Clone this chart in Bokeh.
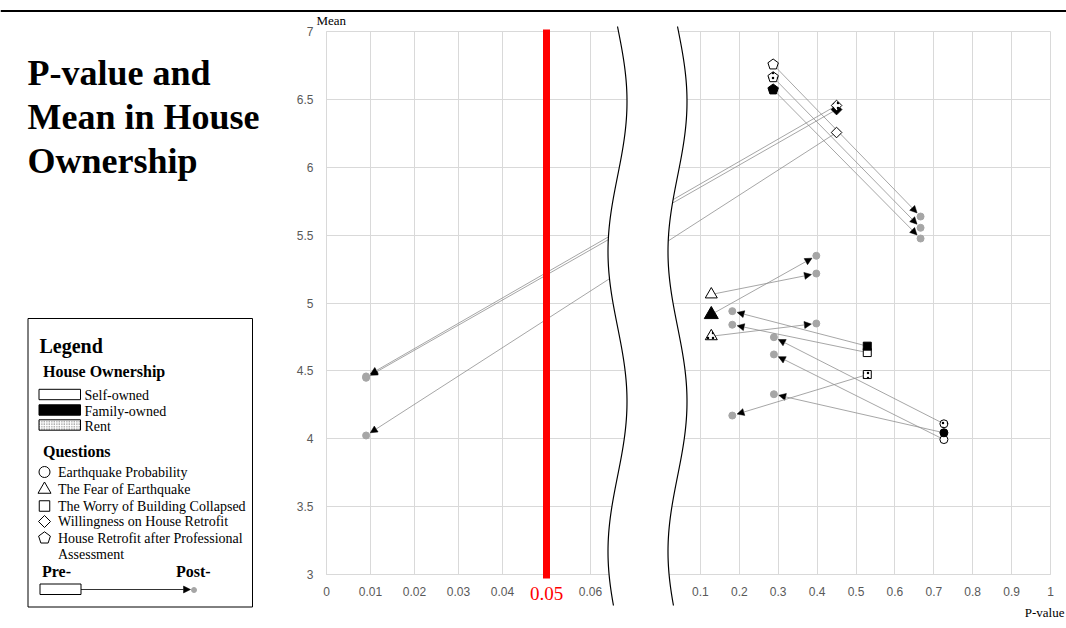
import math
from bokeh.plotting import figure
from bokeh.models import (ColumnDataSource, Arrow, NormalHead, PolyAnnotation,
                          FixedTicker, Range1d, NumeralTickFormatter, Grid)
from bokeh.core.properties import value
from bokeh.embed import file_html
from bokeh.resources import INLINE

# ---------------- data ----------------
questions = ["Earthquake Probability", "The Fear of Earthquake",
             "The Worry of Building Collapsed", "Willingness on House Retrofit",
             "House Retrofit after Professional Assessment"]
ownership = ["Self-owned", "Family-owned", "Rent"]

series_question = (["Earthquake Probability"] * 3 + ["The Fear of Earthquake"] * 3 +
                   ["The Worry of Building Collapsed"] * 3 +
                   ["Willingness on House Retrofit"] * 3 +
                   ["House Retrofit after Professional Assessment"] * 3)
series_owner = ownership * 5

pre_p = [0.726, 0.726, 0.726, 0.128, 0.128, 0.128, 0.529, 0.529, 0.529,
         0.450, 0.450, 0.450, 0.287, 0.287, 0.287]
pre_mean = [3.994, 4.044, 4.110, 5.063, 4.915, 4.755, 4.635, 4.682, 4.473,
            6.256, 6.425, 6.455, 6.757, 6.573, 6.663]
post_p = [0.289, 0.289, 0.289, 0.398, 0.398, 0.398, 0.182, 0.182, 0.182,
          0.009, 0.009, 0.009, 0.666, 0.666, 0.666]
post_mean = [4.621, 4.328, 4.748, 5.217, 5.348, 4.849, 4.840, 4.940, 4.171,
             4.024, 4.449, 4.459, 5.637, 5.475, 5.554]

x_ticks_left = [0, 0.01, 0.02, 0.03, 0.04, 0.05, 0.06]
x_ticks_right = [0.1, 0.2, 0.3, 0.4, 0.5, 0.6, 0.7, 0.8, 0.9, 1]
y_ticks = [3, 3.5, 4, 4.5, 5, 5.5, 6, 6.5, 7]
threshold = 0.05

# ---------------- scales / styles ----------------
SERIF = "Liberation Serif"
SANS = "Liberation Sans"
LEFT_MAX = 0.07
PX_PER_Y = 543 / 4.0
W, H = 1066, 628


def xmap(p):
    return p * 4400 if p <= LEFT_MAX else 335 + 389 * p


def U(xr):           # page pixel x -> data x
    return xr - 326


def Y(yr):           # page pixel y -> data y
    return 7 - (yr - 31) / PX_PER_Y


def norm(v):
    v = round(v, 6)
    return int(v) if v == int(v) else v


marker_of = {"Earthquake Probability": "circle", "The Fear of Earthquake": "triangle",
             "The Worry of Building Collapsed": "square",
             "Willingness on House Retrofit": "diamond",
             "House Retrofit after Professional Assessment": "pentagon"}
size_of = {"circle": 8, "triangle": 12, "square": 8, "diamond": 7.5, "pentagon": 5.5}
fill_of = {"Self-owned": "white", "Family-owned": "black", "Rent": "white"}
hatch_of = {"Self-owned": " ", "Family-owned": " ", "Rent": "dot"}


def pentagon(cx, cy, r):
    xs, ys = [], []
    for k in range(5):
        a = math.pi / 2 + 2 * math.pi * k / 5
        xs.append(cx + r * math.cos(a))
        ys.append(cy + r * math.sin(a) / PX_PER_Y)
    return xs, ys


p = figure(width=W, height=H, x_range=Range1d(U(0), U(W)), y_range=Range1d(Y(H), Y(0)),
           output_backend="svg", toolbar_location=None, title=None, min_border=0,
           outline_line_color=None, background_fill_color="white", border_fill_color="white")

# ---------------- axes & grid ----------------
tick_u = [norm(xmap(t)) for t in x_ticks_left + x_ticks_right]
overrides = {}
for t, u in zip(x_ticks_left + x_ticks_right, tick_u):
    overrides[u] = "" if t == threshold else ("%g" % t)
p.xaxis.ticker = FixedTicker(ticks=tick_u)
p.xaxis.major_label_overrides = overrides
p.xaxis.fixed_location = 3
p.xaxis.bounds = (0, 724)
p.yaxis.ticker = FixedTicker(ticks=y_ticks)
p.yaxis.formatter = NumeralTickFormatter(format="0.[0]")
p.yaxis.fixed_location = 0
p.yaxis.bounds = (3, 7)
for ax in (p.xaxis, p.yaxis):
    ax.axis_line_color = "#d9d9d9"
    ax.major_tick_line_color = None
    ax.minor_tick_line_color = None
    ax.major_label_text_font = SANS
    ax.major_label_text_font_size = "12px"
    ax.major_label_text_color = "#595959"
p.xaxis.major_label_standoff = 6
p.yaxis.major_label_standoff = 7

has_cross = "cross_bounds" in Grid.properties()
if has_cross:
    p.xgrid.ticker = FixedTicker(ticks=tick_u)
    p.ygrid.ticker = FixedTicker(ticks=y_ticks)
    p.xgrid.cross_bounds = (3, 7)
    p.ygrid.cross_bounds = (0, 724)
    p.xgrid.grid_line_color = "#d9d9d9"
    p.ygrid.grid_line_color = "#d9d9d9"
else:
    p.xgrid.visible = False
    p.ygrid.visible = False
    p.segment(x0=tick_u, x1=tick_u, y0=[3] * len(tick_u), y1=[7] * len(tick_u),
              line_color="#d9d9d9", line_width=1)
    p.segment(x0=[0] * len(y_ticks), x1=[724] * len(y_ticks), y0=y_ticks, y1=y_ticks,
              line_color="#d9d9d9", line_width=1)

# threshold line
p.segment(x0=[xmap(threshold)], x1=[xmap(threshold)], y0=[Y(29)], y1=[Y(578)],
          line_color="red", line_width=7, level="overlay")
p.text(x=[xmap(threshold)], y=[Y(593)], text=["%g" % threshold], text_align="center",
       text_baseline="middle", text_font=value(SERIF), text_font_size="19px", text_color="red")

# ---------------- data marks ----------------
xs0, ys0, xs1, ys1 = [], [], [], []
for a, b, c, d in zip(pre_p, pre_mean, post_p, post_mean):
    X0, Y0 = xmap(a), b * PX_PER_Y
    X1, Y1 = xmap(c), d * PX_PER_Y
    L_ = math.hypot(X1 - X0, Y1 - Y0)
    ux, uy = (X1 - X0) / L_, (Y1 - Y0) / L_
    xs0.append(X0)
    ys0.append(b)
    xs1.append(X1 - 5 * ux)
    ys1.append((Y1 - 5 * uy) / PX_PER_Y)
arr_src = ColumnDataSource(dict(x0=xs0, y0=ys0, x1=xs1, y1=ys1))

p.scatter([xmap(v) for v in post_p], post_mean, size=7, color="#a6a6a6")

p.add_layout(Arrow(end=NormalHead(size=7, fill_color="black", line_color="black", line_width=0.5),
                   x_start="x0", y_start="y0", x_end="x1", y_end="y1", source=arr_src,
                   line_color="#8f8f8f", line_width=0.8))

for q in questions:
    m = marker_of[q]
    idx = [i for i, s in enumerate(series_question) if s == q]
    fills = [fill_of[series_owner[i]] for i in idx]
    hatches = [hatch_of[series_owner[i]] for i in idx]
    if m == "pentagon":
        pxs, pys = [], []
        for i in idx:
            a, b = pentagon(xmap(pre_p[i]), pre_mean[i], size_of[m])
            pxs.append(a)
            pys.append(b)
        src = ColumnDataSource(dict(xs=pxs, ys=pys, fill=fills, hatch=hatches))
        p.patches("xs", "ys", source=src, fill_color="fill", hatch_pattern="hatch",
                  hatch_color="black", hatch_scale=5, hatch_weight=1,
                  line_color="black", line_width=1, level="overlay")
    else:
        sizes = [size_of[m] + (2 if (m == "triangle" and series_owner[i] == "Family-owned") else 0)
                 for i in idx]
        glyph_marker = "square" if m == "diamond" else m
        angle = math.pi / 4 if m == "diamond" else 0
        src = ColumnDataSource(dict(x=[xmap(pre_p[i]) for i in idx],
                                    y=[pre_mean[i] for i in idx],
                                    size=sizes, fill=fills, hatch=hatches))
        p.scatter("x", "y", marker=glyph_marker, angle=angle, size="size", source=src,
                  fill_color="fill", hatch_pattern="hatch", hatch_color="black",
                  hatch_scale=5, hatch_weight=1,
                  line_color="black", line_width=1, level="overlay")

# ---------------- axis break ----------------
yrefs = list(range(26, 606, 3)) + [605]
left_curve = [(U(617 + 9.5 * math.sin(2 * math.pi * (y - 26) / 300)), Y(y)) for y in yrefs]
right_curve = [(U(677 + 9.5 * math.sin(2 * math.pi * (y - 26) / 300)), Y(y)) for y in yrefs]
poly = left_curve + right_curve[::-1]
p.add_layout(PolyAnnotation(xs=[q[0] for q in poly], ys=[q[1] for q in poly],
                            fill_color="white", fill_alpha=1, line_alpha=0))
for cur in (left_curve, right_curve):
    pts = cur + cur[::-1]
    p.add_layout(PolyAnnotation(xs=[q[0] for q in pts], ys=[q[1] for q in pts],
                                fill_alpha=0, line_color="black", line_alpha=1, line_width=1.2))


# ---------------- texts ----------------
def txt(x, y, s, size, bold=False, align="left", color="black"):
    p.text(x=[U(x)], y=[Y(y)], text=[s], text_font=value(SERIF), text_font_size=size,
           text_font_style="bold" if bold else "normal", text_baseline="middle",
           text_align=align, text_color=color)


txt(316, 20, "Mean", "13px")
txt(1064, 612, "P-value", "13px", align="right")

# outer top rule
p.line([U(0), U(W)], [Y(10.5), Y(10.5)], line_color="black", line_width=2)

for i, line in enumerate(["P-value and", "Mean in House", "Ownership"]):
    txt(27, 72 + 44 * i, line, "36px", bold=True)

# ---------------- legend ----------------
p.quad(left=U(27.5), right=U(252), top=Y(318), bottom=Y(606.5), fill_alpha=0,
       line_color="black", line_width=1)
txt(39, 345, "Legend", "20px", bold=True)
txt(42.5, 371, "House Ownership", "16px", bold=True)
own_y = [394, 409.5, 424.5]
p.quad(left=[U(38.5)] * 3, right=[U(80)] * 3, top=[Y(y - 5.2) for y in own_y],
       bottom=[Y(y + 5.2) for y in own_y],
       fill_color=["white", "black", "white"], hatch_pattern=[" ", " ", "dot"],
       hatch_color="#555555", hatch_scale=2.5, hatch_weight=0.8, line_color="black", line_width=1)
for y, s in zip(own_y, ownership):
    txt(84, y + 1, s, "14px")
txt(42.5, 451, "Questions", "16px", bold=True)
q_y = [471.5, 489, 505.5, 521, 537.5]
for y, q in zip(q_y, questions):
    m = marker_of[q]
    if m == "pentagon":
        a, b = pentagon(U(44), Y(y), 6.2)
        p.patch(a, b, fill_color="white", line_color="black", line_width=1)
    elif m == "diamond":
        p.scatter([U(44)], [Y(y)], marker="square", angle=math.pi / 4, size=8.5,
                  fill_color="white", line_color="black", line_width=1)
    else:
        p.scatter([U(44)], [Y(y)], marker=m,
                  size={"circle": 11, "triangle": 13, "square": 10.5}[m],
                  fill_color="white", line_color="black", line_width=1)
for y, q in zip(q_y, questions):
    if q.startswith("House Retrofit"):
        txt(57.5, y, "House Retrofit after Professional", "14px")
        txt(57.5, y + 16.5, "Assessment", "14px")
    else:
        txt(57.5, y, q, "14px")
txt(41.5, 571, "Pre-", "16px", bold=True)
txt(175.5, 571, "Post-", "16px", bold=True)
p.quad(left=U(39.5), right=U(80.5), top=Y(583.5), bottom=Y(594), fill_color="white",
       line_color="black", line_width=1)
p.add_layout(Arrow(end=NormalHead(size=7, fill_color="black", line_color="black", line_width=0.5),
                   x_start=U(80.5), y_start=Y(589), x_end=U(190), y_end=Y(589),
                   line_color="black", line_width=0.8))
p.scatter([U(193.5)], [Y(589.5)], size=5, color="#a6a6a6")

open("out.html", "w").write(file_html(p, INLINE))
